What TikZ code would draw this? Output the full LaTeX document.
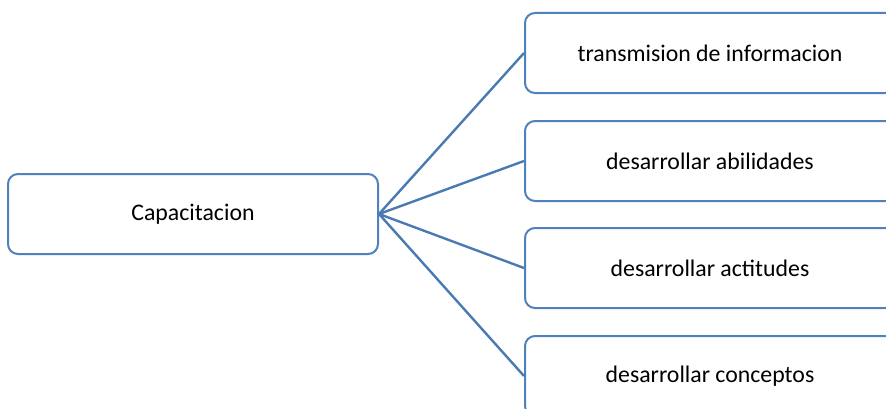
\documentclass[tikz,border=0pt]{standalone}
\usepackage{fontspec}
\setmainfont{Carlito}
\definecolor{boxblue}{RGB}{79, 129, 189}
\definecolor{linkblue}{RGB}{74, 122, 178}
\usetikzlibrary{positioning}

\begin{document}
\begin{tikzpicture}[x=0.5pt, y=0.5pt,
    topicbox/.style={draw=boxblue, line width=1pt, rounded corners=5pt, fill=white,
      minimum width=185pt, minimum height=40pt, inner sep=0pt,
      font=\fontsize{11.9}{14}\selectfont},
    link/.style={draw=linkblue, line width=1.2pt}]
  \useasboundingbox (0,0) rectangle (886,408);

  % Main topic
  \node[topicbox] (capac) at (193, 194) {Capacitacion};

  % Branches
  \node[topicbox] (trans) at (710, 355) {transmision de informacion};
  \node[topicbox] (abil) at (710, 247) {desarrollar abilidades};
  \node[topicbox] (actit) at (710, 140) {desarrollar actitudes};
  \node[topicbox] (concep) at (710, 32) {desarrollar conceptos};

  \draw[link] (capac.east) -- (trans.west);
  \draw[link] (capac.east) -- (abil.west);
  \draw[link] (capac.east) -- (actit.west);
  \draw[link] (capac.east) -- (concep.west);
\end{tikzpicture}
\end{document}
